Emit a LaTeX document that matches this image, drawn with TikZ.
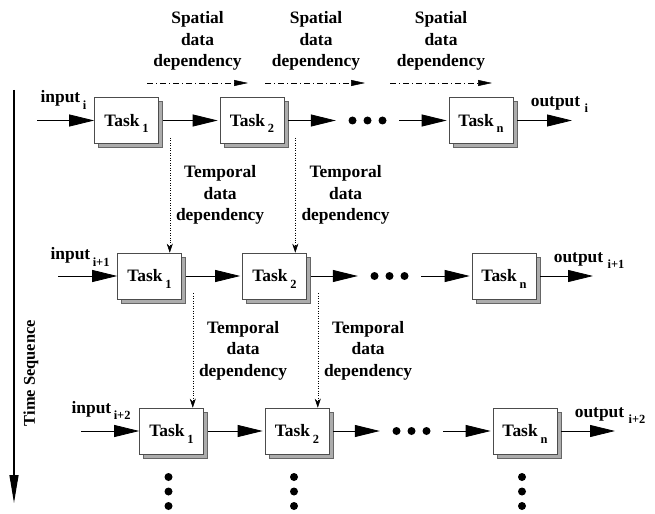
\documentclass[tikz,border=0pt]{standalone}
\usepackage{fontspec}
\setmainfont{Liberation Serif}
\usetikzlibrary{arrows.meta,shadows,calc}
\newcommand{\lo}[1]{\raisebox{-6.5bp}[0pt][0pt]{\fontsize{12.5}{14}\selectfont #1}}

\begin{document}
\begin{tikzpicture}[x=1bp,y=-1bp,
    every node/.style={font=\fontsize{17.5}{21.5}\selectfont\bfseries},
    task/.style={draw=black!70,line width=0.6bp,fill=white,minimum width=64bp,minimum height=46bp,inner sep=0pt,
      general shadow={fill=gray!65,draw=black!60,shadow xshift=4bp,shadow yshift=-4bp}},
    flow/.style={line width=0.8bp,-{Triangle[length=25bp,width=12bp]}},
    sdep/.style={line width=0.5bp,dash pattern=on 6bp off 3bp on 1bp off 3bp,-{Triangle[length=14bp,width=6bp]}},
    tdep/.style={line width=0.5bp,dotted,-{Stealth[length=9bp,width=6bp]}},
    dep/.style={align=center,inner sep=0pt},
    gap/.style={minimum width=63bp,inner sep=0pt}]
    \useasboundingbox (0,0) rectangle (655,514);

    % spatial dependencies
    \node[dep] (sp1) at (197.5,41) {Spatial\\data\\dependency};
    \node[dep] (sp2) at (316,41) {Spatial\\data\\dependency};
    \node[dep] (sp3) at (441,41) {Spatial\\data\\dependency};
    \coordinate (sa1) at (147,83); \coordinate (sb1) at (248,83);
    \coordinate (sa2) at (265,83); \coordinate (sb2) at (365,83);
    \coordinate (sa3) at (390,83); \coordinate (sb3) at (492,83);
    \draw[sdep] (sa1) -- (sb1);
    \draw[sdep] (sa2) -- (sb2);
    \draw[sdep] (sa3) -- (sb3);

    % row i
    \coordinate (in1) at (37,120.5);
    \node[task] (t11) at (126.5,120.5) {Task\,\lo{1}};
    \node[task] (t12) at (252,120.5) {Task\,\lo{2}};
    \node[gap] (d1) at (367.5,120.5) {};
    \node[task] (t1n) at (481,120.5) {Task\,\lo{n}};
    \coordinate (out1) at (572,120.5);
    \node[anchor=base west] (il1) at (37,103) {input\hspace{2.5bp}\lo{i}};
    \node[anchor=base west] (ol1) at ([xshift=14bp,yshift=14bp]t1n.east) {output\ \lo{i}};
    \draw[flow] (in1) -- (t11);
    \draw[flow,shorten <=4bp,shorten >=2bp] (t11) -- (t12);
    \draw[flow,shorten <=4bp] (t12) -- (d1);
    \draw[flow,shorten >=2bp] (d1) -- (t1n);
    \draw[flow,shorten <=4bp] (t1n) -- (out1);

    % row i+1
    \coordinate (in2) at (58,276);
    \node[task] (t21) at (149.5,276) {Task\,\lo{1}};
    \node[task] (t22) at (274.5,276) {Task\,\lo{2}};
    \node[gap] (d2) at (389.5,276) {};
    \node[task] (t2n) at (504,276) {Task\,\lo{n}};
    \coordinate (out2) at (593,276);
    \node[anchor=base west] (il2) at (47,260) {input\hspace{2.5bp}\lo{i+1}};
    \node[anchor=base west] (ol2) at ([xshift=14bp,yshift=14bp]t2n.east) {output\ \lo{i+1}};
    \draw[flow] (in2) -- (t21);
    \draw[flow,shorten <=4bp,shorten >=2bp] (t21) -- (t22);
    \draw[flow,shorten <=4bp] (t22) -- (d2);
    \draw[flow,shorten >=2bp] (d2) -- (t2n);
    \draw[flow,shorten <=4bp] (t2n) -- (out2);

    % row i+2
    \coordinate (in3) at (81,431);
    \node[task] (t31) at (171.5,431) {Task\,\lo{1}};
    \node[task] (t32) at (297,431) {Task\,\lo{2}};
    \node[gap] (d3) at (411.5,431) {};
    \node[task] (t3n) at (525,431) {Task\,\lo{n}};
    \coordinate (out3) at (615,431);
    \node[anchor=base west] (il3) at (68,413) {input\hspace{2.5bp}\lo{i+2}};
    \node[anchor=base west] (ol3) at ([xshift=14bp,yshift=14bp]t3n.east) {output\ \lo{i+2}};
    \draw[flow] (in3) -- (t31);
    \draw[flow,shorten <=4bp,shorten >=2bp] (t31) -- (t32);
    \draw[flow,shorten <=4bp] (t32) -- (d3);
    \draw[flow,shorten >=2bp] (d3) -- (t3n);
    \draw[flow,shorten <=4bp] (t3n) -- (out3);

    % ellipses
    \foreach \d in {d1,d2,d3}
      \foreach \k in {-15,0,15}
        \fill ([xshift=\k bp]\d.center) circle (4bp);
    \foreach \t in {t31,t32,t3n}
      \foreach \k in {46,60.5,75}
        \fill ([shift={(-3,\k)}]\t.center) circle (4bp);

    % temporal dependencies
    \coordinate (s11) at ($(t11.south east)+(11,-6)$);
    \coordinate (s12) at ($(t12.south east)+(11,-6)$);
    \coordinate (s21) at ($(t21.south east)+(11,-6)$);
    \coordinate (s22) at ($(t22.south east)+(11,-6)$);
    \draw[tdep] (s11) -- (s11 |- t21.north);
    \draw[tdep] (s12) -- (s12 |- t22.north);
    \draw[tdep] (s21) -- (s21 |- t31.north);
    \draw[tdep] (s22) -- (s22 |- t32.north);
    \node[dep,anchor=west] (tp1) at ($(s11)!0.5!(s11 |- t21.north)+(6,0)$) {Temporal\\data\\dependency};
    \node[dep,anchor=west] (tp2) at ($(s12)!0.5!(s12 |- t22.north)+(6,0)$) {Temporal\\data\\dependency};
    \node[dep,anchor=west] (tp3) at ($(s21)!0.5!(s21 |- t31.north)+(6,0)$) {Temporal\\data\\dependency};
    \node[dep,anchor=west] (tp4) at ($(s22)!0.5!(s22 |- t32.north)+(6,0)$) {Temporal\\data\\dependency};

    % time axis
    \coordinate (ts) at (14,90);
    \coordinate (te) at (14,503);
    \draw[line width=1.2bp,-{Triangle[length=28bp,width=9bp]}] (ts) -- (te);
    \node[rotate=90,font=\fontsize{16.5}{20}\selectfont\bfseries] (tlab) at (31,373) {Time Sequence};
\end{tikzpicture}
\end{document}
